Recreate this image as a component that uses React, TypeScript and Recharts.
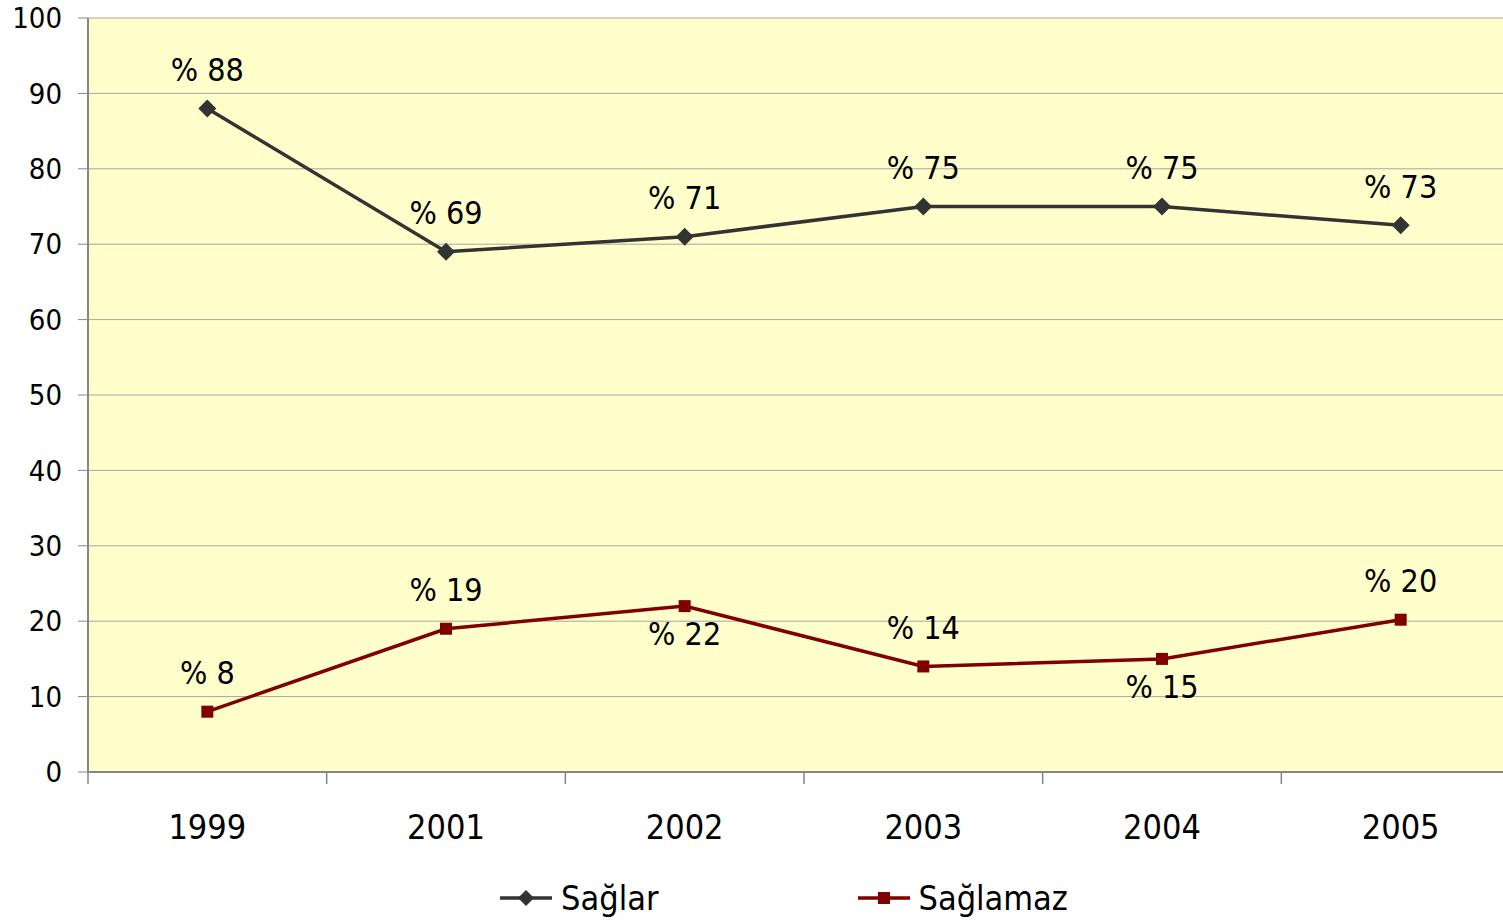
import { CartesianGrid, LabelList, Legend, Line, LineChart, XAxis, YAxis } from "recharts";

const years = ["1999", "2001", "2002", "2003", "2004", "2005"];
const saglar = [88, 69, 71, 75, 75, 72.5];
const saglamaz = [8, 19, 22, 14, 15, 20.2];
const yTicks = [0, 10, 20, 30, 40, 50, 60, 70, 80, 90, 100];

const FONT = "'DejaVu Sans Condensed', 'DejaVu Sans', sans-serif";
const DARK = "#333333";
const RED = "#800000";
const AXIS = "#868686";

// each year sits in the middle of its band, ticks go on the band edges
const data = years.map((year, i) => ({
  pos: i + 0.5,
  year,
  saglar: saglar[i],
  saglamaz: saglamaz[i],
}));
const xTicks = Array.from({ length: years.length * 2 + 1 }, (_, i) => i / 2);

// Sağlamaz labels that Excel placed under the point
const redBelow = new Set([2, 4]);

function YearTick({ x, y, payload }: any) {
  const v = payload.value;
  if (Number.isInteger(v)) {
    return <line x1={x} x2={x} y1={y} y2={y + 12} stroke={AXIS} strokeWidth={1.5} />;
  }
  return (
    <text x={x} y={y + 55} dy="0.355em" textAnchor="middle" fontSize={34} fontFamily={FONT} fill="#000">
      {years[Math.floor(v)]}
    </text>
  );
}

function Diamond({ cx, cy, index }: any) {
  return (
    <path
      key={`d-${index}`}
      d={`M${cx},${cy - 9} L${cx + 9},${cy} L${cx},${cy + 9} L${cx - 9},${cy} Z`}
      fill={DARK}
    />
  );
}

function Square({ cx, cy, index }: any) {
  return <rect key={`s-${index}`} x={cx - 6} y={cy - 6} width={12} height={12} fill={RED} />;
}

function pctLabel(below?: Set<number>) {
  return ({ x, y, value, index }: any) => {
    const under = below?.has(index);
    return (
      <text
        key={`l-${index}`}
        x={x}
        y={under ? y + 28 : y - 39}
        dy="0.355em"
        textAnchor="middle"
        fontSize={32}
        fontFamily={FONT}
        fill="#000"
      >
        {`% ${Math.round(value)}`}
      </text>
    );
  };
}

function LegendIcon({ color, square }: { color: string; square?: boolean }) {
  return (
    <svg width={52} height={20}>
      <line x1={0} x2={52} y1={10} y2={10} stroke={color} strokeWidth={3.5} />
      {square ? (
        <rect x={20} y={4} width={12} height={12} fill={color} />
      ) : (
        <path d="M26,2 L34,10 L26,18 L18,10 Z" fill={color} />
      )}
    </svg>
  );
}

function LegendContent() {
  return (
    <div
      style={{
        display: "flex",
        justifyContent: "center",
        alignItems: "center",
        boxSizing: "border-box",
        height: 56,
        paddingTop: 6,
        paddingLeft: 48,
        fontFamily: FONT,
        fontSize: 34,
        color: "#000",
      }}
    >
      <LegendIcon color={DARK} />
      <span style={{ marginLeft: 9, marginRight: 200 }}>Sağlar</span>
      <LegendIcon color={RED} square />
      <span style={{ marginLeft: 8 }}>Sağlamaz</span>
    </div>
  );
}

export default function App() {
  // the plot runs a little past the right edge of the picture, as in the original
  return (
    <div style={{ width: 1503, height: 923, overflow: "hidden", background: "#fff" }}>
      <style>{"body{margin:0}"}</style>
      <LineChart width={1520} height={923} data={data} margin={{ top: 18, right: 0, left: 0, bottom: 0 }}>
        <CartesianGrid vertical={false} stroke="#a6a6a6" fill="#FFFFCC" />
        <XAxis
          dataKey="pos"
          type="number"
          domain={[0, years.length]}
          ticks={xTicks}
          interval={0}
          tickSize={0}
          tickMargin={0}
          tickLine={false}
          tick={<YearTick />}
          height={95}
          axisLine={{ stroke: AXIS, strokeWidth: 2 }}
        />
        <YAxis
          domain={[0, 100]}
          ticks={yTicks}
          interval={0}
          width={88}
          tickSize={10}
          tickMargin={16}
          axisLine={{ stroke: AXIS, strokeWidth: 2 }}
          tickLine={{ stroke: AXIS }}
          tick={{ fontSize: 29, fontFamily: FONT, fill: "#000" }}
        />
        <Legend verticalAlign="bottom" content={<LegendContent />} />
        <Line
          dataKey="saglar"
          name="Sağlar"
          stroke={DARK}
          strokeWidth={3.5}
          dot={Diamond}
          activeDot={false}
          isAnimationActive={false}
        >
          <LabelList dataKey="saglar" content={pctLabel()} />
        </Line>
        <Line
          dataKey="saglamaz"
          name="Sağlamaz"
          stroke={RED}
          strokeWidth={3.5}
          dot={Square}
          activeDot={false}
          isAnimationActive={false}
        >
          <LabelList dataKey="saglamaz" content={pctLabel(redBelow)} />
        </Line>
      </LineChart>
    </div>
  );
}
